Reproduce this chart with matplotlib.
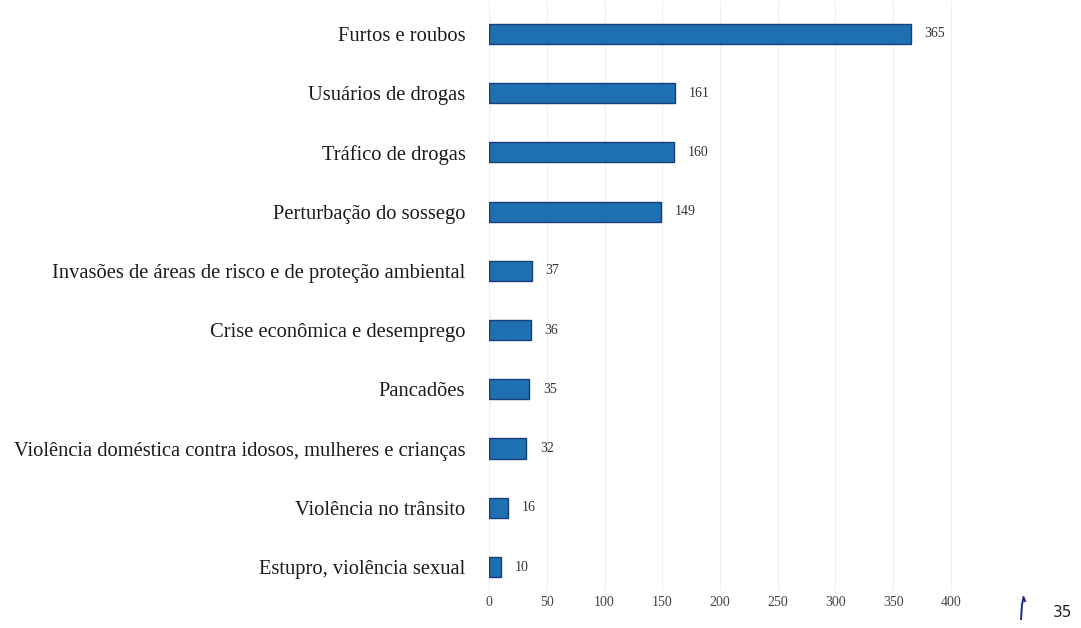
import matplotlib.pyplot as plt

categories = [
    "Furtos e roubos",
    "Usuários de drogas",
    "Tráfico de drogas",
    "Perturbação do sossego",
    "Invasões de áreas de risco e de proteção ambiental",
    "Crise econômica e desemprego",
    "Pancadões",
    "Violência doméstica contra idosos, mulheres e crianças",
    "Violência no trânsito",
    "Estupro, violência sexual",
]
values = [365, 161, 160, 149, 37, 36, 35, 32, 16, 10]
xticks = [0, 50, 100, 150, 200, 250, 300, 350, 400]

plt.rcParams['font.family'] = ['Liberation Serif', 'DejaVu Serif']

fig = plt.figure(figsize=(10.81, 6.28), dpi=100)
ax = fig.add_axes([0.4524, 0.0594, 0.438, 0.9384])

ypos = list(range(len(categories)))
ax.barh(ypos, values, height=0.34, color='#1f70b0', edgecolor='#163e78',
        linewidth=1.0, zorder=3)

for y, v in zip(ypos, values):
    ax.annotate(str(v), (v, y), xytext=(10, 0), textcoords='offset points',
                va='center', ha='left', fontsize=10, color='#333333')

ax.set_yticks(ypos)
ax.set_yticklabels(categories, fontsize=14.8, color='#1a1a1a')
ax.set_xticks(xticks)
ax.set_xticklabels([str(t) for t in xticks], fontsize=10, color='#444444')
ax.set_xlim(0, 410)
ax.set_ylim(9.4, -0.55)

ax.tick_params(axis='y', length=0, pad=17)
ax.tick_params(axis='x', length=0, pad=4)
ax.grid(axis='x', color='#f0f0f0', linewidth=0.8, zorder=0)
for s in ax.spines.values():
    s.set_visible(False)

# page number and pen mark in the corner
fig.text(0.983, 0.012, "35", fontsize=11, family='DejaVu Sans',
         color='#222222', ha='center', va='bottom')
fig.add_artist(plt.Line2D([0.9445, 0.9454, 0.9468, 0.9482],
                          [0.0143, 0.0366, 0.0494, 0.0430],
                          transform=fig.transFigure, color='#1a2a8a', lw=1.4))

fig.savefig('out.png', dpi=100)
